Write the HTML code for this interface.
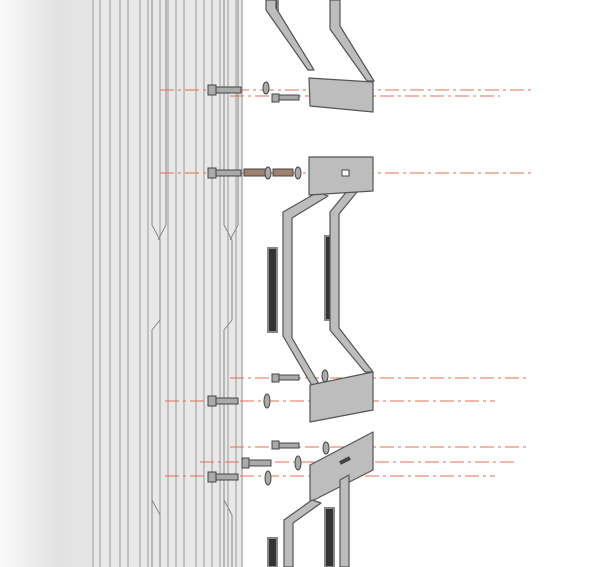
<!DOCTYPE html><html><head><style>body{margin:0;background:#fff}svg{display:block}</style></head><body>
<svg width="600" height="567" viewBox="0 0 600 567" xmlns="http://www.w3.org/2000/svg">
<defs>
<linearGradient id="bg" x1="0" x2="1"><stop offset="0" stop-color="#fafafa"/><stop offset=".6" stop-color="#e2e2e2"/><stop offset="1" stop-color="#e6e6e6"/></linearGradient>
</defs>
<rect width="600" height="567" fill="#fff"/>
<rect x="0" y="0" width="94" height="567" fill="url(#bg)"/>
<rect x="92" y="0" width="151" height="567" fill="#e8e8e8"/>
<g stroke="#9a9a9a" stroke-width="1" fill="none">
<path d="M93 0V567M100 0V567M110 0V567M120 0V567M128 0V567M140 0V567M148 0V567M160 0V567M168 0V567M176 0V567M184 0V567M196 0V567M204 0V567M212 0V567M220 0V567M228 0V567M236 0V567M242 0V567"/>
<path d="M152 0V225L160 240V320L152 330V567M166 0V225L158 240" stroke="#888"/>
<path d="M224 0V225L232 240V320L224 330V567M238 0V225L230 240" stroke="#888"/>
<path d="M152 500L160 515V567M224 500L232 515V567" stroke="#888"/>
</g>
<g stroke="#e07050" stroke-width="1" stroke-dasharray="14 4 3 4" fill="none">
<path d="M160 90H535M230 96H500M160 173H535M230 378H530M165 401H495M230 447H530M200 462H515M165 476H495"/>
</g>
<g fill="#333" stroke="#888" stroke-width="2"><rect x="270" y="0" width="8" height="10"/><rect x="332" y="0" width="7" height="26"/><rect x="268" y="248" width="9" height="84"/><rect x="325" y="236" width="9" height="84"/><rect x="268" y="538" width="9" height="29"/><rect x="325" y="508" width="9" height="59"/></g>
<g fill="#bdbdbd" stroke="#555" stroke-width="1.2" stroke-linejoin="round">
<path d="M266 0h10v8l38 62h-6l-42-60z"/>
<path d="M330 0h10v26l34 55h-7l-37-52z"/>
<path d="M309 78l64 4v30l-63-6z"/>
<path d="M318 192l-35 20v124l35 60h8l-34-58v-120l36-22z"/>
<path d="M348 190l-18 22v118l35 42h8l-34-44v-114l18-22z"/>
<path d="M309 157h64v34l-64 4z"/>
<path d="M310 385l63-13v38l-63 12z"/>
<path d="M310 465l63-33v38l-63 32z"/>
<path d="M312 500l-28 20v47h9v-44l28-20z"/>
<path d="M340 480v87h9v-92z"/>
</g>
<rect x="342" y="170" width="7" height="6" fill="#fff" stroke="#444"/>
<path d="M340 463l10-5" stroke="#444" stroke-width="4"/>
<g fill="#aaa" stroke="#444" stroke-width="1">
<rect x="208" y="85" width="8" height="10"/><rect x="216" y="87" width="25" height="6"/>
<rect x="272" y="94" width="7" height="8"/><rect x="279" y="95" width="20" height="5"/>
<ellipse cx="266" cy="88" rx="3" ry="6"/>
<rect x="208" y="168" width="8" height="10"/><rect x="216" y="170" width="25" height="6"/>
<rect x="244" y="169" width="24" height="7" fill="#a08070"/><ellipse cx="268" cy="173" rx="3" ry="6"/>
<rect x="273" y="169" width="20" height="7" fill="#a08070"/><ellipse cx="298" cy="173" rx="3" ry="6"/>
<rect x="272" y="374" width="7" height="8"/><rect x="279" y="375" width="20" height="5"/><ellipse cx="325" cy="376" rx="3" ry="6"/>
<rect x="208" y="396" width="8" height="10"/><rect x="216" y="398" width="22" height="6"/><ellipse cx="267" cy="401" rx="3" ry="7"/>
<rect x="272" y="441" width="7" height="8"/><rect x="279" y="443" width="20" height="5"/><ellipse cx="326" cy="448" rx="3" ry="6"/>
<rect x="242" y="458" width="7" height="10"/><rect x="249" y="460" width="22" height="6"/><ellipse cx="298" cy="463" rx="3" ry="7"/>
<rect x="208" y="472" width="8" height="10"/><rect x="216" y="474" width="22" height="6"/><ellipse cx="268" cy="478" rx="3" ry="7"/>
</g>
</svg>
</body></html>
